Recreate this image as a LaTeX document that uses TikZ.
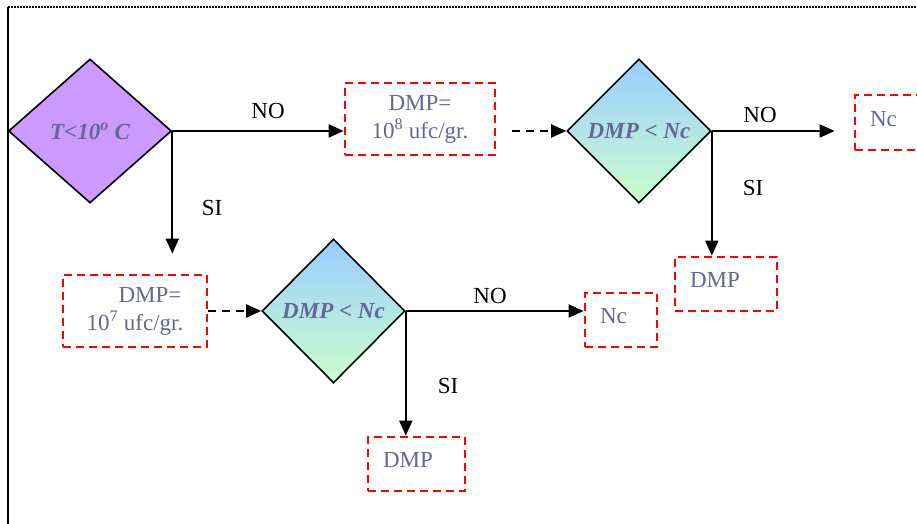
\documentclass[tikz,border=0pt]{standalone}
\usepackage{fontspec}
\setmainfont{Liberation Serif}
\usetikzlibrary{shapes.geometric,arrows.meta}

\definecolor{txtblue}{RGB}{102,102,153}
\definecolor{lilac}{RGB}{204,153,255}
\definecolor{skyblue}{RGB}{153,204,255}
\definecolor{mint}{RGB}{204,255,204}

\tikzset{
  cond/.style={diamond, draw, line width=1.6pt, inner sep=0pt, text=txtblue,
    font=\fontsize{23}{28}\selectfont\bfseries\itshape},
  outbox/.style={draw=red, line width=2.8pt, dash pattern=on 8pt off 5pt,
    inner sep=0pt, text=txtblue, font=\fontsize{23}{28}\selectfont},
  onebox/.style={outbox, minimum height=54pt, text height=15pt, text depth=8pt, align=left},
  flow/.style={line width=2pt, -{Triangle[length=15pt,width=13pt]}},
  link/.style={flow, dash pattern=on 8pt off 6pt},
  lbl/.style={font=\fontsize{23}{28}\selectfont},
}

\begin{document}
\begin{tikzpicture}[x=1pt,y=-1pt]
  \useasboundingbox (0,0) rectangle (917,524);
  \clip (0,0) rectangle (917,524);

  % Frame
  \draw[line width=2pt] (8,7) -- (8,524);
  \draw[line width=1.4pt, dash pattern=on 1.5pt off 1.5pt] (8,7) -- (917,7);

  % Decisions
  \node[cond, fill=lilac, minimum width=163pt, minimum height=144pt] (c1) at (90,131) {T<10\textsuperscript{o} C};
  \node[cond, top color=skyblue, bottom color=mint, minimum width=144pt, minimum height=144pt] (c2) at (639,131) {DMP < Nc};
  \node[cond, top color=skyblue, bottom color=mint, minimum width=143pt, minimum height=144pt] (c3) at (333.5,311) {DMP < Nc};

  % Results
  \node[outbox, minimum width=150pt, minimum height=72pt, align=center] (dmp8) at (420,119) {DMP=\\10\textsuperscript{8} ufc/gr.};
  \node[outbox, minimum width=144pt, minimum height=72pt, align=center] (dmp7) at (135,311) {\hspace*{30pt}DMP=\\10\textsuperscript{7} ufc/gr.};
  \node[onebox, minimum width=72pt, minimum height=55pt, text width=42pt] (nc1) at (891,122.5) {Nc};
  \node[onebox, minimum width=102pt, text width=72pt] (dmp1) at (726,284) {DMP};
  \node[onebox, minimum width=72pt, text width=42pt] (nc2) at (621,320) {Nc};
  \node[onebox, minimum width=97pt, text width=67pt] (dmp2) at (416.5,464) {DMP};

  % Connectors
  \draw[flow] (c1.east) -- (c1.east -| dmp8.west);
  \draw[flow, shorten >=20pt] (c1.east) -- (c1.east |- dmp7.north);
  \draw[link, shorten <=16pt] (c2.west -| dmp8.east) -- (c2.west);
  \draw[flow, shorten >=19pt] (c2.east) -- (c2.east -| nc1.west);
  \draw[flow] (c2.east) -- (c2.east |- dmp1.north);
  \draw[link] (dmp7.east) -- (c3.west);
  \draw[flow] (c3.east) -- (c3.east -| nc2.west);
  \draw[flow] (c3.east) -- (c3.east |- dmp2.north);

  % Labels
  \node[lbl] (no1) at (268,111) {NO};
  \node[lbl] (si1) at (212,208) {SI};
  \node[lbl] (no2) at (760,115) {NO};
  \node[lbl] (si2) at (753,188) {SI};
  \node[lbl] (no3) at (490,296) {NO};
  \node[lbl] (si3) at (448,386) {SI};
\end{tikzpicture}
\end{document}
